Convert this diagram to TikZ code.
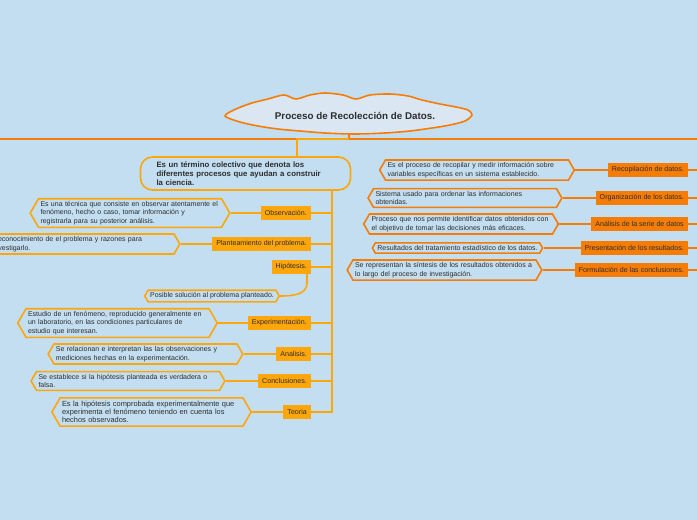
\documentclass[tikz,border=0pt]{standalone}
\usepackage{fontspec}
\setmainfont{Liberation Sans}
\usetikzlibrary{shapes.symbols, positioning, calc}
\definecolor{fondo}{RGB}{195,222,240}
\definecolor{naranja}{RGB}{245,125,5}
\definecolor{ambar}{RGB}{254,166,10}
\definecolor{nubecol}{RGB}{218,231,242}
\definecolor{texto}{RGB}{45,45,45}

\begin{document}
\begin{tikzpicture}[x=1pt, y=-1pt,
    nube/.style={draw=naranja, fill=nubecol, line width=1.6pt},
    titulo/.style={font=\fontsize{9.8}{11}\selectfont\bfseries, text=texto},
    raiz/.style={draw=ambar, line width=1.6pt, rounded corners=12pt, text width=178pt, inner xsep=16pt, inner ysep=3pt, minimum height=33pt, align=left, font=\fontsize{7.8}{9}\selectfont\bfseries, text=texto},
    etq/.style={fill=ambar, anchor=east, inner xsep=4pt, inner ysep=0pt, minimum height=14pt, font=\fontsize{7.1}{8}\selectfont, text=texto},
    etqR/.style={etq, fill=naranja},
    hexa/.style={signal, signal to=west and east, signal pointer angle=120, draw=ambar, line width=1.6pt, inner xsep=2pt, inner ysep=2.5pt, align=left, font=\fontsize{7}{8.5}\selectfont, text=texto},
    desc/.style={hexa, text width=179pt},
    hexaR/.style={hexa, draw=naranja},
    descR/.style={desc, draw=naranja},
    conn/.style={draw=ambar, line width=1.6pt},
    connR/.style={draw=naranja, line width=1.6pt}
]
    \fill[fondo] (0,0) rectangle (697,520);
    \useasboundingbox (0,0) rectangle (697,520);

    \coordinate (izq)   at (-3,139);
    \coordinate (der)   at (700,139);
    \coordinate (cruce) at (349,139);
    \coordinate (bajada) at (297,139);
    \coordinate (base)  at (349,133);
    \coordinate (eje)   at (332,190);

    \draw[connR] (izq) -- (der);
    \draw[connR] (base) -- (cruce);
    \filldraw[nube] plot[smooth cycle, tension=0.5] coordinates {
        (225,116) (236,109) (252,103) (268,99) (284,95) (296,99) (310,95)
        (325,93) (343,95) (356,99) (370,95) (390,94) (408,96) (422,100)
        (440,104) (456,107) (468,110) (472,115) (465,121) (450,125) (432,128)
        (410,131) (385,133) (355,134) (325,133) (300,131) (278,129) (258,126) (240,122)};
    \node[titulo] (titulo) at (355,116) {Proceso de Recolección de Datos.};

    \node[raiz] (termino) at (245.5,173.5) {Es un término colectivo que denota los\\diferentes procesos que ayudan a construir\\la ciencia.};
    \draw[conn] (cruce) -- (bajada) -- (bajada |- termino.north);

    % rama izquierda
    \node[etq] (obs)   at (311,213) {Observación.};
    \node[etq] (plan)  at (311,244) {Planteamiento del problema.};
    \node[etq] (hip)   at (311,267) {Hipótesis.};
    \node[etq] (exper) at (311,323) {Experimentación.};
    \node[etq] (anal)  at (311,354) {Analisis.};
    \node[etq] (concl) at (311,381) {Conclusiones.};
    \node[etq] (teo)   at (311,412) {Teoria};

    \node[desc] (obsd)   at (130,213)  {Es una técnica que consiste en observar atentamente el\\fenómeno, hecho o caso, tomar información y\\registrarla para su posterior análisis.};
    \node[desc] (pland)  at (82.5,244) {Reconocimiento de el problema y razones para\\investigarlo.};
    \node[hexa] (hipd)   at (212,296)  {Posible solución al problema planteado.};
    \node[desc] (experd) at (117.5,323) {Estudio de un fenómeno, reproducido generalmente en\\un laboratorio, en las condiciones particulares de\\estudio que interesan.};
    \node[desc] (anald)  at (145.5,354) {Se relacionan e interpretan las las observaciones y\\mediciones hechas en la experimentación.};
    \node[desc] (concld) at (128,381)  {Se establece si la hipótesis planteada es verdadera o\\falsa.};
    \node[desc, inner ysep=3pt, font=\fontsize{7.4}{8.3}\selectfont] (teod) at (151.5,412) {Es la hipótesis comprobada experimentalmente que\\experimenta el fenómeno teniendo en cuenta los\\hechos observados.};

    \draw[conn] (eje |- termino.south) -- (eje |- teo.east) -- (teo.east);
    \draw[conn] (eje |- obs.east) -- (obs.east);
    \draw[conn] (eje |- plan.east) -- (plan.east);
    \draw[conn] (eje |- hip.east) -- (hip.east);
    \draw[conn] (eje |- exper.east) -- (exper.east);
    \draw[conn] (eje |- anal.east) -- (anal.east);
    \draw[conn] (eje |- concl.east) -- (concl.east);

    \draw[conn] (obsd.east) -- (obs.west);
    \draw[conn] (pland.east) -- (plan.west);
    \draw[conn] ([xshift=-4pt]hip.south east) -- ++(0,9) to[out=-90,in=0] (hipd.east);
    \draw[conn] (experd.east) -- (exper.west);
    \draw[conn] (anald.east) -- (anal.west);
    \draw[conn] (concld.east) -- (concl.west);
    \draw[conn] (teod.east) -- (teo.west);

    % rama derecha
    \node[etqR] (recop) at (688,170) {Recopilación de datos.};
    \node[etqR] (organ) at (688,198) {Organización de los datos.};
    \node[etqR] (serie) at (688,224) {Análisis de la serie de datos};
    \node[etqR] (pres)  at (688,248) {Presentación de los resultados.};
    \node[etqR] (form)  at (688,270) {Formulación de las conclusiones.};

    \node[descR] (recopd) at (477,170)  {Es el proceso de recopilar y medir información sobre\\variables específicas en un sistema establecido.};
    \node[descR] (organd) at (465,198)  {Sistema usado para ordenar las informaciones\\obtenidas.};
    \node[descR] (seried) at (461,224)  {Proceso que nos permite identificar datos obtenidos con\\el objetivo de tomar las decisiones más eficaces.};
    \node[hexaR] (presd)  at (457.5,248) {Resultados del tratamiento estadístico de los datos.};
    \node[descR] (formd)  at (444.5,270) {Se representan la síntesis de los resultados obtenidos a\\lo largo del proceso de investigación.};

    \coordinate (recopfin) at (700,170);
    \coordinate (organfin) at (700,198);
    \coordinate (seriefin) at (700,224);
    \coordinate (presfin)  at (700,248);
    \coordinate (formfin)  at (700,270);

    \draw[connR] (recopd.east) -- (recop.west);
    \draw[connR] (organd.east) -- (organ.west);
    \draw[connR] (seried.east) -- (serie.west);
    \draw[connR] (presd.east) -- (pres.west);
    \draw[connR] (formd.east) -- (form.west);
    \draw[connR] (recop.east) -- (recopfin);
    \draw[connR] (organ.east) -- (organfin);
    \draw[connR] (serie.east) -- (seriefin);
    \draw[connR] (pres.east) -- (presfin);
    \draw[connR] (form.east) -- (formfin);
\end{tikzpicture}
\end{document}
